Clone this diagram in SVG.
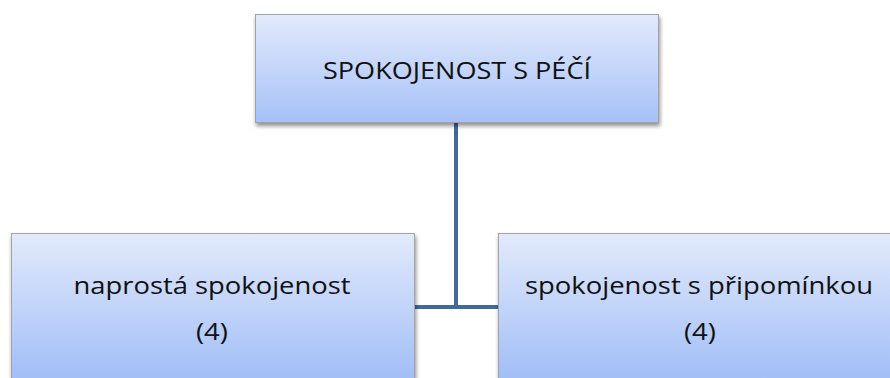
<svg xmlns="http://www.w3.org/2000/svg" width="890" height="378" viewBox="0 0 890 378">
  <defs>
    <linearGradient id="boxFill" x1="0" y1="0" x2="0" y2="1">
      <stop offset="0" stop-color="#e2eafc"/>
      <stop offset="1" stop-color="#a6c1f7"/>
    </linearGradient>
    <linearGradient id="boxFillTall" x1="0" y1="0" x2="0" y2="1">
      <stop offset="0" stop-color="#e2eafc"/>
      <stop offset="0.85" stop-color="#a6c1f7"/>
      <stop offset="1" stop-color="#9fbcf6"/>
    </linearGradient>
    <filter id="shadow" x="-5%" y="-5%" width="115%" height="125%">
      <feGaussianBlur in="SourceAlpha" stdDeviation="2"/>
      <feOffset dx="1" dy="3" result="b"/>
      <feComponentTransfer><feFuncA type="linear" slope="0.45"/></feComponentTransfer>
      <feMerge><feMergeNode/><feMergeNode in="SourceGraphic"/></feMerge>
    </filter>
  </defs>
  <style>
    .box { stroke: #a3a3a3; stroke-width: 1; filter: url(#shadow); }
    .label { font-family: "Open Sans", "Liberation Sans", sans-serif; font-size: 24px; fill: #111; text-anchor: middle; }
    .link { stroke: #41699a; stroke-width: 4; fill: none; }
  </style>
  <rect width="890" height="378" fill="#ffffff"/>

  <g id="connectors">
    <path class="link" d="M456 122 V307 M414 307 H498"/>
  </g>

  <g id="node-root">
    <rect class="box" x="255.5" y="14.5" width="403" height="108" fill="url(#boxFill)"/>
    <text class="label" x="457" y="79" textLength="268" lengthAdjust="spacingAndGlyphs">SPOKOJENOST S PÉČÍ</text>
  </g>

  <g id="node-left">
    <rect class="box" x="11.5" y="233.5" width="403" height="160" fill="url(#boxFillTall)"/>
    <text class="label" x="212" y="294" textLength="277" lengthAdjust="spacingAndGlyphs">naprostá spokojenost</text>
    <text class="label" x="212" y="340" textLength="32" lengthAdjust="spacingAndGlyphs">(4)</text>
  </g>

  <g id="node-right">
    <rect class="box" x="498.5" y="233.5" width="403" height="160" fill="url(#boxFillTall)"/>
    <text class="label" x="699" y="294" textLength="348" lengthAdjust="spacingAndGlyphs">spokojenost s připomínkou</text>
    <text class="label" x="700" y="340" textLength="32" lengthAdjust="spacingAndGlyphs">(4)</text>
  </g>
</svg>
